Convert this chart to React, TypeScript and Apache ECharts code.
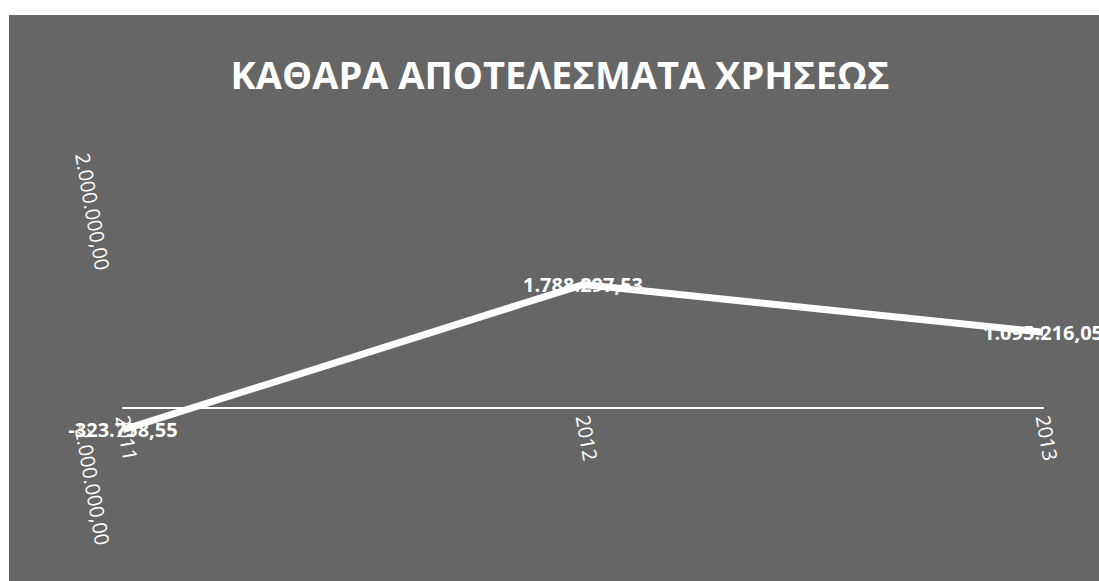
import React, { useEffect, useRef } from "react";
import * as echarts from "echarts";

const titleText = "ΚΑΘΑΡΑ ΑΠΟΤΕΛΕΣΜΑΤΑ ΧΡΗΣΕΩΣ";
const categories = ["2011", "2012", "2013"];
const netResults = [-323758.55, 1788297.53, 1095216.05];
const yMin = -2000000;
const yMax = 2000000;
const yInterval = 2000000;

function formatGreek(v: number): string {
  const neg = v < 0;
  const abs = Math.abs(v);
  const fixed = abs.toFixed(2);
  const [intPart, dec] = fixed.split(".");
  const withDots = intPart.replace(/\B(?=(\d{3})+(?!\d))/g, ".");
  return (neg ? "-" : "") + withDots + "," + dec;
}

export default function App() {
  const ref = useRef<HTMLDivElement>(null);
  useEffect(() => {
    if (!ref.current) return;
    const chart = echarts.init(ref.current, undefined, { renderer: "svg" });
    chart.setOption({
      animation: false,
      backgroundColor: "#666666",
      title: {
        text: titleText,
        left: 551,
        top: 40,
        textAlign: "center",
        padding: 0,
        textStyle: {
          color: "#ffffff",
          fontFamily: "Open Sans",
          fontWeight: "bold",
          fontSize: 38,
        },
      },
      grid: { left: 114, right: 56, top: 255, bottom: 36, containLabel: false },
      xAxis: {
        type: "category",
        data: categories,
        boundaryGap: false,
        offset: -137.5,
        axisLine: { show: true, onZero: false, lineStyle: { color: "#ffffff", width: 2 } },
        axisTick: { show: false },
        axisLabel: {
          rotate: -80,
          margin: 8,
          color: "#ffffff",
          fontFamily: "Open Sans",
          fontSize: 20,
        },
        splitLine: { show: false },
      },
      yAxis: {
        type: "value",
        min: yMin,
        max: yMax,
        interval: yInterval,
        axisLine: { show: false },
        axisTick: { show: false },
        splitLine: { show: false },
        axisLabel: {
          rotate: -80,
          margin: 20,
          color: "#ffffff",
          fontFamily: "Open Sans",
          fontSize: 20,
          formatter: (v: number) => (v === 0 ? "" : formatGreek(v)),
        },
      },
      series: [
        {
          type: "line",
          data: netResults,
          showSymbol: true,
          symbol: "circle",
          symbolSize: 0,
          lineStyle: { color: "#ffffff", width: 7 },
          itemStyle: { color: "#ffffff" },
          label: {
            show: true,
            position: "inside",
            color: "#ffffff",
            fontFamily: "Open Sans",
            fontWeight: "bold",
            fontSize: 20,
            formatter: (p: any) => formatGreek(p.value),
          },
        },
      ],
    });
    return () => chart.dispose();
  }, []);
  return (
    <div
      ref={ref}
      style={{ position: "fixed", left: 9, top: 15, width: 1090, height: 566 }}
    />
  );
}
